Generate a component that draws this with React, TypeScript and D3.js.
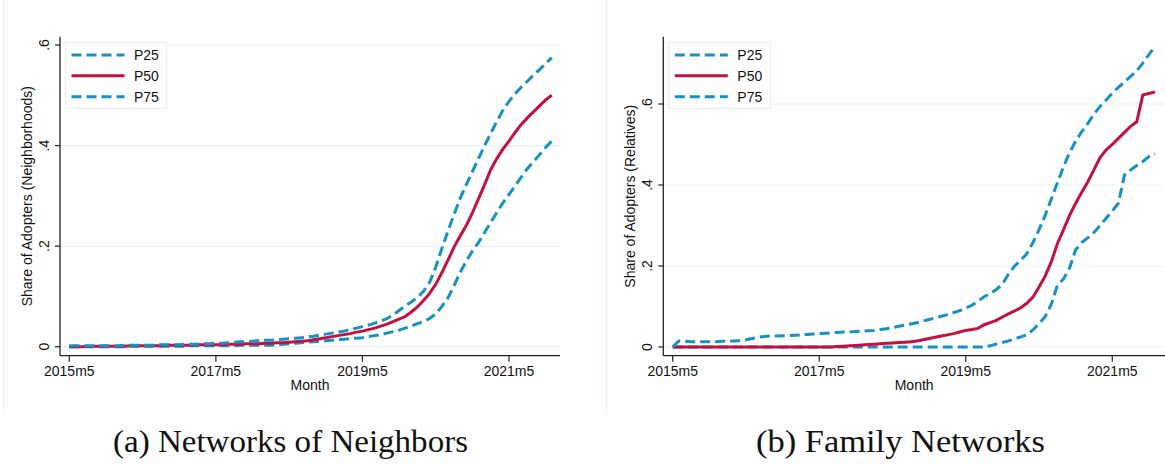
import React from "react";
import * as d3 from "d3";

// ---------- data ----------
const monthIndex: number[] = Array.from({ length: 80 }, (_, i) => i); // 2015m5 .. 2021m12
const xTickMonths = [0, 24, 48, 72];
const xTickLabels = ["2015m5", "2017m5", "2019m5", "2021m5"];
const yTickValues = [0, 0.2, 0.4, 0.6];
const yTickLabels = ["0", ".2", ".4", ".6"];
const seriesNames = ["P25", "P50", "P75"];

// Panel (a): Networks of Neighbors
const neighP50 = [
  0.000, 0.000, 0.000, 0.001, 0.001, 0.001, 0.001, 0.001, 0.001, 0.001,
  0.002, 0.002, 0.002, 0.002, 0.002, 0.002, 0.003, 0.003, 0.003, 0.003,
  0.003, 0.004, 0.004, 0.004, 0.004, 0.004, 0.005, 0.005, 0.005, 0.006,
  0.006, 0.006, 0.007, 0.007, 0.008, 0.008, 0.009, 0.010, 0.011, 0.012,
  0.014, 0.016, 0.018, 0.020, 0.022, 0.024, 0.026, 0.029, 0.031, 0.034,
  0.037, 0.041, 0.045, 0.050, 0.055, 0.060, 0.069, 0.079, 0.092, 0.106,
  0.124, 0.147, 0.172, 0.198, 0.220, 0.241, 0.266, 0.294, 0.322, 0.352,
  0.374, 0.393, 0.409, 0.426, 0.442, 0.455, 0.467, 0.479, 0.491, 0.500,
];
const neighP75 = [
  0.002, 0.002, 0.002, 0.002, 0.002, 0.002, 0.002, 0.002, 0.002, 0.003,
  0.003, 0.003, 0.003, 0.003, 0.003, 0.004, 0.004, 0.004, 0.004, 0.005,
  0.005, 0.005, 0.006, 0.006, 0.007, 0.007, 0.008, 0.009, 0.010, 0.010,
  0.011, 0.012, 0.013, 0.013, 0.014, 0.015, 0.016, 0.017, 0.018, 0.020,
  0.021, 0.023, 0.025, 0.027, 0.029, 0.031, 0.034, 0.037, 0.040, 0.043,
  0.047, 0.051, 0.056, 0.063, 0.072, 0.081, 0.089, 0.098, 0.110, 0.128,
  0.158, 0.195, 0.230, 0.263, 0.295, 0.322, 0.348, 0.374, 0.400, 0.424,
  0.448, 0.470, 0.488, 0.503, 0.516, 0.528, 0.540, 0.551, 0.563, 0.575,
];
const neighP25 = [
  0.000, 0.000, 0.000, 0.000, 0.000, 0.000, 0.000, 0.000, 0.000, 0.000,
  0.001, 0.001, 0.001, 0.001, 0.001, 0.001, 0.001, 0.001, 0.001, 0.001,
  0.002, 0.002, 0.002, 0.002, 0.002, 0.002, 0.002, 0.002, 0.003, 0.003,
  0.003, 0.003, 0.003, 0.003, 0.004, 0.005, 0.006, 0.007, 0.008, 0.009,
  0.010, 0.011, 0.012, 0.013, 0.014, 0.015, 0.016, 0.017, 0.018, 0.020,
  0.022, 0.024, 0.027, 0.030, 0.033, 0.037, 0.041, 0.046, 0.050, 0.056,
  0.065, 0.080, 0.097, 0.121, 0.148, 0.170, 0.190, 0.207, 0.227, 0.247,
  0.267, 0.286, 0.303, 0.320, 0.337, 0.354, 0.368, 0.382, 0.396, 0.409,
];

// Panel (b): Family Networks
const famP50 = [
  0.000, 0.000, 0.000, 0.000, 0.000, 0.000, 0.000, 0.000, 0.000, 0.000,
  0.000, 0.000, 0.000, 0.000, 0.000, 0.000, 0.000, 0.000, 0.000, 0.000,
  0.000, 0.000, 0.000, 0.000, 0.000, 0.000, 0.000, 0.001, 0.002, 0.003,
  0.004, 0.005, 0.006, 0.007, 0.008, 0.009, 0.010, 0.011, 0.012, 0.013,
  0.015, 0.018, 0.021, 0.024, 0.027, 0.030, 0.033, 0.037, 0.041, 0.043,
  0.046, 0.055, 0.060, 0.066, 0.074, 0.082, 0.089, 0.097, 0.108, 0.123,
  0.148, 0.175, 0.210, 0.255, 0.289, 0.325, 0.355, 0.382, 0.408, 0.438,
  0.468, 0.487, 0.500, 0.515, 0.530, 0.545, 0.556, 0.622, 0.626, 0.630,
];
const famP75 = [
  0.000, 0.015, 0.014, 0.013, 0.013, 0.013, 0.013, 0.013, 0.014, 0.014,
  0.015, 0.016, 0.018, 0.021, 0.024, 0.026, 0.027, 0.027, 0.028, 0.028,
  0.029, 0.030, 0.031, 0.032, 0.033, 0.034, 0.035, 0.036, 0.037, 0.037,
  0.038, 0.039, 0.040, 0.041, 0.043, 0.045, 0.048, 0.051, 0.054, 0.057,
  0.060, 0.064, 0.068, 0.072, 0.076, 0.080, 0.085, 0.090, 0.096, 0.103,
  0.113, 0.124, 0.132, 0.142, 0.155, 0.180, 0.200, 0.214, 0.230, 0.258,
  0.290, 0.325, 0.365, 0.405, 0.445, 0.480, 0.508, 0.532, 0.552, 0.575,
  0.594, 0.610, 0.627, 0.641, 0.655, 0.668, 0.682, 0.701, 0.722, 0.743,
];
const famP25 = [
  0.000, 0.000, 0.000, 0.000, 0.000, 0.000, 0.000, 0.000, 0.000, 0.000,
  0.000, 0.000, 0.000, 0.000, 0.000, 0.000, 0.000, 0.000, 0.000, 0.000,
  0.000, 0.000, 0.000, 0.000, 0.000, 0.000, 0.000, 0.000, 0.000, 0.000,
  0.000, 0.000, 0.000, 0.000, 0.000, 0.000, 0.000, 0.000, 0.000, 0.000,
  0.000, 0.000, 0.000, 0.000, 0.000, 0.000, 0.000, 0.000, 0.000, 0.000,
  0.000, 0.000, 0.003, 0.007, 0.011, 0.015, 0.020, 0.025, 0.030, 0.042,
  0.058, 0.075, 0.105, 0.152, 0.168, 0.195, 0.240, 0.258, 0.270, 0.283,
  0.300, 0.318, 0.336, 0.355, 0.425, 0.437, 0.448, 0.458, 0.470, 0.477,
];

// ---------- styles ----------
const BLUE = "#1591c3";
const RED = "#c5103f";
const GRID = "#e9f1f3";
const FONT = "'Liberation Sans', Arial, Helvetica, sans-serif";
const SERIF = "'Liberation Serif', 'Times New Roman', serif";
const DASH = "10,5";

type PanelProps = {
  axisX: number;
  axisRight: number;
  x0: number;
  x72: number;
  y0: number;
  y06: number;
  yTitle: string;
  p25: number[];
  p50: number[];
  p75: number[];
  legendW: number;
};

function Panel(props: PanelProps) {
  const { axisX, axisRight, x0, x72, y0, y06, yTitle, p25, p50, p75, legendW } = props;
  const axisTop = 36.7;
  const axisBottom = 355.7;
  const x = d3.scaleLinear().domain([0, 72]).range([x0, x72]);
  const y = d3.scaleLinear().domain([0, 0.6]).range([y0, y06]);
  const line = d3
    .line<number>()
    .x((_, i) => x(monthIndex[i]))
    .y((d) => y(d));

  const legendX = axisX + 5.5;
  const legendY = 42.3;
  const rows = [55, 75.7, 96.7];
  const legendStyles = [
    { color: BLUE, dash: DASH },
    { color: RED, dash: undefined as string | undefined },
    { color: BLUE, dash: DASH },
  ];

  return (
    <g>
      {yTickValues.map((v) => (
        <line key={"g" + v} x1={axisX} x2={axisRight} y1={y(v)} y2={y(v)} stroke={GRID} strokeWidth={1.2} />
      ))}
      <path d={line(p25) || ""} fill="none" stroke={BLUE} strokeWidth={3} strokeDasharray={DASH} />
      <path d={line(p50) || ""} fill="none" stroke={RED} strokeWidth={3} />
      <path d={line(p75) || ""} fill="none" stroke={BLUE} strokeWidth={3} strokeDasharray={DASH} />
      <line x1={axisX} x2={axisX} y1={axisTop} y2={axisBottom} stroke="#222" strokeWidth={1.3} />
      <line x1={axisX} x2={axisRight} y1={axisBottom} y2={axisBottom} stroke="#222" strokeWidth={1.3} />
      {yTickValues.map((v, i) => (
        <g key={"yt" + v}>
          <line x1={axisX - 5} x2={axisX} y1={y(v)} y2={y(v)} stroke="#222" strokeWidth={1.2} />
          <text
            transform={`translate(${axisX - 11},${y(v)}) rotate(-90)`}
            textAnchor="middle"
            fontFamily={FONT}
            fontSize={14}
            fill="#111"
          >
            {yTickLabels[i]}
          </text>
        </g>
      ))}
      {xTickMonths.map((m, i) => (
        <g key={"xt" + m}>
          <line x1={x(m)} x2={x(m)} y1={axisBottom} y2={axisBottom + 6} stroke="#222" strokeWidth={1.2} />
          <text x={x(m)} y={axisBottom + 20} textAnchor="middle" fontFamily={FONT} fontSize={14} fill="#111">
            {xTickLabels[i]}
          </text>
        </g>
      ))}
      <text x={(axisX + axisRight) / 2} y={390} textAnchor="middle" fontFamily={FONT} fontSize={14} fill="#111">
        Month
      </text>
      <text
        transform={`translate(${axisX - 28},${(axisTop + axisBottom) / 2}) rotate(-90)`}
        textAnchor="middle"
        fontFamily={FONT}
        fontSize={14}
        fill="#111"
      >
        {yTitle}
      </text>
      <rect x={legendX} y={legendY} width={legendW} height={66} fill="#fff" stroke={GRID} strokeWidth={1.2} />
      {seriesNames.map((name, i) => (
        <g key={name}>
          <line
            x1={legendX + 6}
            x2={legendX + 59}
            y1={rows[i]}
            y2={rows[i]}
            stroke={legendStyles[i].color}
            strokeWidth={3}
            strokeDasharray={legendStyles[i].dash}
          />
          <text x={legendX + 68.5} y={rows[i] + 5} fontFamily={FONT} fontSize={14} fill="#111">
            {name}
          </text>
        </g>
      ))}
    </g>
  );
}

export default function App() {
  return (
    <svg
      width={1165}
      height={464}
      viewBox="0 0 1165 464"
      style={{ position: "absolute", left: 0, top: 0, background: "#fff" }}
    >
      <rect x={0} y={0} width={1165} height={464} fill="#fff" />
      <line x1={3.5} x2={3.5} y1={0} y2={413} stroke={GRID} strokeWidth={1.2} />
      <line x1={606.5} x2={606.5} y1={0} y2={413} stroke={GRID} strokeWidth={1.2} />
      <Panel
        axisX={60}
        axisRight={560}
        x0={69.3}
        x72={509}
        y0={346.7}
        y06={45}
        yTitle="Share of Adopters (Neighborhoods)"
        p25={neighP25}
        p50={neighP50}
        p75={neighP75}
        legendW={101}
      />
      <Panel
        axisX={663.3}
        axisRight={1165}
        x0={672.7}
        x72={1112.3}
        y0={347}
        y06={104}
        yTitle="Share of Adopters (Relatives)"
        p25={famP25}
        p50={famP50}
        p75={famP75}
        legendW={101.7}
      />
      <text
        x={113}
        y={452}
        fontFamily={SERIF}
        fontSize={32}
        textLength={355}
        lengthAdjust="spacingAndGlyphs"
        fill="#111"
      >
        (a) Networks of Neighbors
      </text>
      <text
        x={756}
        y={452}
        fontFamily={SERIF}
        fontSize={32}
        textLength={289}
        lengthAdjust="spacingAndGlyphs"
        fill="#111"
      >
        (b) Family Networks
      </text>
    </svg>
  );
}
